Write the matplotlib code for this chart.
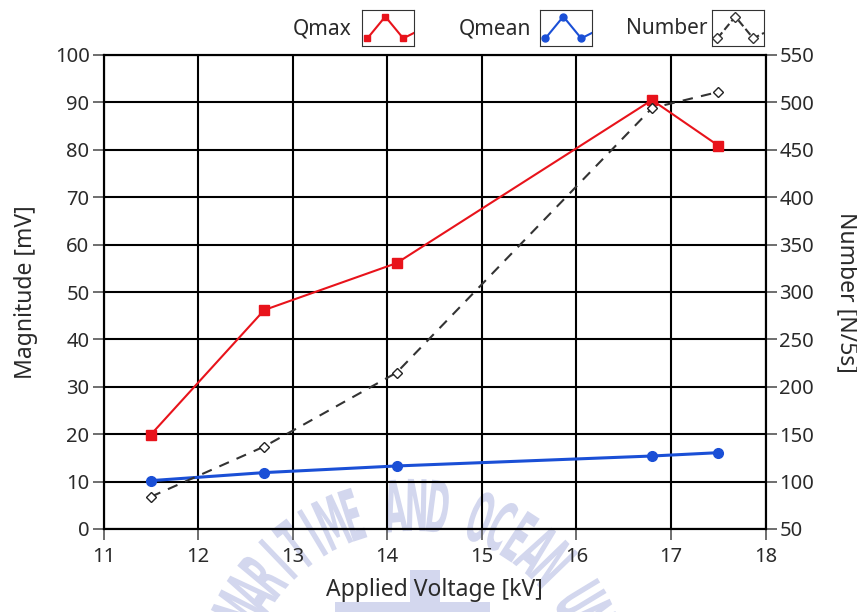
import numpy as np
import matplotlib.pyplot as plt
from matplotlib.textpath import TextPath
from matplotlib.patches import PathPatch, Rectangle
from matplotlib.font_manager import FontProperties
from matplotlib.transforms import Affine2D

# ---------------------------------------------------------------------------- #
#                                     Data                                     #
# ---------------------------------------------------------------------------- #
voltage = [11.5, 12.7, 14.1, 16.8, 17.5]          # Applied Voltage [kV]
qmax = [19.9, 46.2, 56.1, 90.5, 80.9]             # Magnitude [mV]
qmean = [10.2, 11.9, 13.3, 15.4, 16.1]            # Magnitude [mV]
number = [84, 137, 215, 494, 511]                 # Number [N/5s]

x_ticks = [11, 12, 13, 14, 15, 16, 17, 18]
left_ticks = list(range(0, 101, 10))
right_ticks = list(range(50, 551, 50))

RED = '#e8131b'
BLUE = '#1a4fd6'
TXT = '#2a2a2a'
WM = '#d3d7ee'
W, H = 857, 612

plt.rcParams['font.family'] = ['Noto Sans', 'DejaVu Sans']

fig = plt.figure(figsize=(W / 100, H / 100), dpi=100)

# ---------------------------------------------------------------------------- #
#                   Watermark (tall narrow letters on an arc)                  #
# ---------------------------------------------------------------------------- #
wm_text = 'MARITIME AND OCEAN UNIV'
wm_cx, wm_cy, wm_r = 413, 700, 195          # arc centre / radius in pixels
wm_angles = np.linspace(153, 12, len(wm_text))
prop = FontProperties(family='DejaVu Sans', weight='bold')
for ch, a in zip(wm_text, wm_angles):
    if ch == ' ':
        continue
    tp = TextPath((0, 0), ch, size=40, prop=prop)
    ext = tp.get_extents()
    px = wm_cx + wm_r * np.cos(np.radians(a))
    py = wm_cy - wm_r * np.sin(np.radians(a))
    sy = 52 / ext.height
    tr = (Affine2D()
          .translate(-(ext.x0 + ext.width / 2), -(ext.y0 + ext.height / 2))
          .scale(sy * 0.40, sy)
          .rotate_deg(a - 90)
          .translate(px, H - py))
    fig.add_artist(PathPatch(tp, transform=tr, fc=WM, ec='none', zorder=-2))

# logo stub under the x label
for x0, y0, w, h in [(410, 570, 30, 42), (335, 602, 155, 10)]:
    fig.add_artist(Rectangle((x0 / W, 1 - (y0 + h) / H), w / W, h / H,
                             transform=fig.transFigure, fc=WM, ec='none', zorder=-2))

# ---------------------------------------------------------------------------- #
#                                   Plotting                                   #
# ---------------------------------------------------------------------------- #
ax = fig.add_axes([103.5 / W, 83 / H, 662 / W, 474 / H])
ax.patch.set_alpha(0)
ax2 = ax.twinx()

ax.plot(voltage, qmax, color=RED, lw=1.5, marker='s', ms=7, zorder=4)
ax.plot(voltage, qmean, color=BLUE, lw=2.2, marker='o', ms=7, zorder=4)
ax2.plot(voltage, number, color='#333333', lw=1.5, ls=(0, (5, 4)),
         marker='D', ms=5, mfc='white', mec='#222222', zorder=3)

ax.set_xlim(11, 18)
ax.set_ylim(0, 100)
ax2.set_ylim(50, 550)
ax.set_xticks(x_ticks)
ax.set_yticks(left_ticks)
ax2.set_yticks(right_ticks)
ax.grid(True, color='black', lw=1.5)
ax.set_axisbelow(True)

for a in (ax, ax2):
    a.tick_params(labelsize=14.5, length=8, width=1.2, pad=2,
                  colors='#555555', labelcolor=TXT)
    for s in a.spines.values():
        s.set_linewidth(1.5)
ax.tick_params(axis='x', pad=5)

ax.set_xlabel('Applied Voltage [kV]', fontsize=16.5, labelpad=8, color=TXT)
ax.set_ylabel('Magnitude [mV]', fontsize=16.5, labelpad=12, color=TXT)
ax2.set_ylabel('Number [N/5s]', fontsize=16.5, rotation=270, labelpad=32, color=TXT)

# ---------------------------------------------------------------------------- #
#                                    Legend                                    #
# ---------------------------------------------------------------------------- #
legend = [
    ('Qmax', RED, '-', 's', RED, 352, 362),
    ('Qmean', BLUE, '-', 'o', BLUE, 531, 540),
    ('Number', '#333333', '--', 'D', 'white', 708, 712),
]
for label, col, ls, mk, mfc, tx, bx in legend:
    fig.text(tx / W, 1 - 29 / H, label, fontsize=15, ha='right', va='center', color=TXT)
    icon = fig.add_axes([bx / W, 1 - 46 / H, 52 / W, 36 / H])
    icon.plot([0, 1, 2, 2.6], [0, 1, 0, 0.25], color=col, ls=ls, lw=1.5)
    icon.plot([0, 1, 2], [0, 1, 0], ls='none', marker=mk, ms=5, mfc=mfc, mec=col)
    icon.set_xlim(-0.3, 2.6)
    icon.set_ylim(-0.35, 1.3)
    icon.set_xticks([])
    icon.set_yticks([])
    for s in icon.spines.values():
        s.set_color('#333333')

fig.savefig('out.png', dpi=100)
